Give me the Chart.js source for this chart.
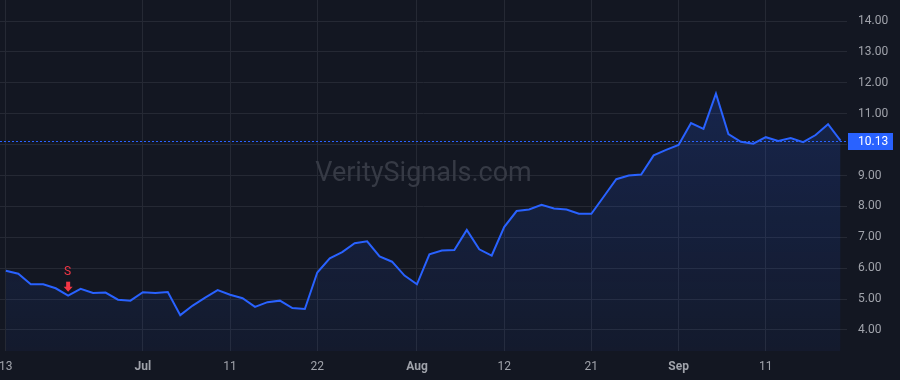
<!DOCTYPE html>
<html>
<head>
<meta charset="utf-8">
<script src="https://cdn.jsdelivr.net/npm/chart.js@4/dist/chart.umd.min.js"></script>
<style>
  html, body { margin: 0; padding: 0; background: #131722; }
  canvas { display: block; }
</style>
</head>
<body>
<canvas id="myChart" width="900" height="380"></canvas>
<script>
// trading days, Jun 13 -> Sep 19
const categories = [
    'Jun 13', 'Jun 16', 'Jun 17', 'Jun 18', 'Jun 20', 'Jun 23', 'Jun 24', 'Jun 25', 'Jun 26', 'Jun 27', 'Jun 30',
    'Jul 1', 'Jul 2', 'Jul 3', 'Jul 7', 'Jul 8', 'Jul 9', 'Jul 10', 'Jul 11', 'Jul 14', 'Jul 15', 'Jul 16',
    'Jul 17', 'Jul 18', 'Jul 21', 'Jul 22', 'Jul 23', 'Jul 24', 'Jul 25', 'Jul 28', 'Jul 29', 'Jul 30', 'Jul 31',
    'Aug 1', 'Aug 4', 'Aug 5', 'Aug 6', 'Aug 7', 'Aug 8', 'Aug 11', 'Aug 12', 'Aug 13', 'Aug 14', 'Aug 15',
    'Aug 18', 'Aug 19', 'Aug 20', 'Aug 21', 'Aug 22', 'Aug 25', 'Aug 26', 'Aug 27', 'Aug 28', 'Aug 29',
    'Sep 2', 'Sep 3', 'Sep 4', 'Sep 5', 'Sep 8', 'Sep 9', 'Sep 10', 'Sep 11', 'Sep 12', 'Sep 15', 'Sep 16',
    'Sep 17', 'Sep 18', 'Sep 19'
];
const prices = [
    5.92, 5.82, 5.48, 5.48, 5.35, 5.11, 5.33, 5.20, 5.21, 4.98, 4.95,
    5.22, 5.20, 5.23, 4.48, 4.79, 5.05, 5.29, 5.14, 5.03, 4.75, 4.90,
    4.95, 4.71, 4.68, 5.86, 6.32, 6.52, 6.81, 6.87, 6.38, 6.21, 5.76,
    5.48, 6.45, 6.57, 6.59, 7.24, 6.61, 6.41, 7.33, 7.85, 7.90, 8.05,
    7.93, 7.90, 7.76, 7.76, 8.32, 8.88, 9.00, 9.03, 9.65, 9.83,
    9.99, 10.70, 10.51, 11.65, 10.34, 10.09, 10.03, 10.24, 10.12, 10.21, 10.08,
    10.31, 10.66, 10.13
];
// x axis labels and the day they sit on
const tickDays = ['Jun 13', 'Jul 1', 'Jul 11', 'Jul 22', 'Aug 1', 'Aug 12', 'Aug 21', 'Sep 2', 'Sep 11'];
const tickLabels = ['13', 'Jul', '11', '22', 'Aug', '12', '21', 'Sep', '11'];
const monthLabels = ['Jul', 'Aug', 'Sep'];
const yTicks = [4, 5, 6, 7, 8, 9, 10, 11, 12, 13, 14];
// sell signal
const signalDay = 'Jun 23';
const signalText = 'S';

const FONT = 'Roboto, "Noto Sans", sans-serif';
const BLUE = '#2962ff';
const TEXT = '#a0a3ab';
const GRID = '#252934';

const points = prices.map((p, i) => ({ x: i, y: p }));
const lastPrice = prices[prices.length - 1];

const extras = {
    id: 'extras',
    beforeDatasetsDraw(chart) {
        const c = chart.ctx;
        const area = chart.chartArea;
        const ys = chart.scales.y;
        // watermark
        c.save();
        c.font = '27px ' + FONT;
        c.fillStyle = '#363a45';
        c.textAlign = 'center';
        c.textBaseline = 'alphabetic';
        c.fillText('VeritySignals.com', (area.left + area.right) / 2, 181);
        // last price line
        const py = Math.round(ys.getPixelForValue(lastPrice)) + 0.5;
        c.strokeStyle = BLUE;
        c.lineWidth = 1;
        c.setLineDash([2, 2]);
        c.beginPath();
        c.moveTo(area.left, py);
        c.lineTo(area.right, py);
        c.stroke();
        c.restore();
    },
    afterDraw(chart) {
        const c = chart.ctx;
        const xs = chart.scales.x;
        const ys = chart.scales.y;
        // price label
        const py = ys.getPixelForValue(lastPrice);
        c.save();
        c.fillStyle = BLUE;
        c.fillRect(ys.left + 1, Math.round(py) - 8, 45, 17);
        c.fillStyle = '#ffffff';
        c.font = '12px ' + FONT;
        c.textBaseline = 'middle';
        c.textAlign = 'left';
        c.fillText(lastPrice.toFixed(2), ys.left + 11, Math.round(py) + 1);
        // sell marker
        const i = categories.indexOf(signalDay);
        const sx = xs.getPixelForValue(i);
        const sy = ys.getPixelForValue(prices[i]);
        c.fillStyle = '#f23645';
        c.textAlign = 'center';
        c.fillText(signalText, sx - 0.5, sy - 24);
        c.fillRect(sx - 2, sy - 14, 4, 6);
        c.beginPath();
        c.moveTo(sx - 4.5, sy - 9);
        c.lineTo(sx + 4.5, sy - 9);
        c.lineTo(sx, sy - 4);
        c.closePath();
        c.fill();
        c.restore();
    }
};

const ctx = document.getElementById('myChart').getContext('2d');
const myChart = new Chart(ctx, {
    type: 'line',
    data: {
        datasets: [{
            data: points,
            borderColor: BLUE,
            borderWidth: 2,
            pointRadius: 0,
            tension: 0,
            fill: 'start',
            backgroundColor: (context) => {
                const { chart } = context;
                const area = chart.chartArea;
                if (!area) return 'rgba(41,98,255,0.12)';
                const g = chart.ctx.createLinearGradient(0, area.top, 0, area.bottom);
                g.addColorStop(0, 'rgba(41,98,255,0.24)');
                g.addColorStop(1, 'rgba(41,98,255,0.05)');
                return g;
            }
        }]
    },
    options: {
        responsive: false,
        animation: false,
        devicePixelRatio: 1,
        layout: { padding: 0 },
        plugins: {
            legend: { display: false },
            tooltip: { enabled: false }
        },
        scales: {
            x: {
                type: 'linear',
                min: -0.47,
                max: 67.52,
                afterBuildTicks: (scale) => {
                    scale.ticks = tickDays.map(d => ({ value: categories.indexOf(d) }));
                },
                afterFit: (scale) => {
                    scale.height = 29;
                    scale.paddingLeft = 0;
                    scale.paddingRight = 0;
                },
                grid: { color: GRID, drawTicks: false },
                border: { display: false },
                ticks: {
                    autoSkip: false,
                    maxRotation: 0,
                    padding: 9,
                    color: TEXT,
                    font: (c) => {
                        const k = c.tick ? tickDays.indexOf(categories[c.tick.value]) : -1;
                        const bold = k >= 0 && monthLabels.includes(tickLabels[k]);
                        return { family: FONT, size: 12, weight: bold ? 'bold' : 'normal' };
                    },
                    callback: (value) => {
                        const k = tickDays.indexOf(categories[value]);
                        return k >= 0 ? tickLabels[k] : '';
                    }
                }
            },
            y: {
                position: 'right',
                min: 3.32,
                max: 14.68,
                afterBuildTicks: (scale) => {
                    scale.ticks = yTicks.map(v => ({ value: v }));
                },
                afterFit: (scale) => {
                    scale.width = 53;
                    scale.paddingTop = 0;
                    scale.paddingBottom = 0;
                },
                grid: { color: GRID, drawTicks: false },
                border: { display: false },
                ticks: {
                    padding: 11,
                    color: TEXT,
                    font: { family: FONT, size: 12 },
                    callback: (value) => value.toFixed(2)
                }
            }
        }
    },
    plugins: [extras]
});
</script>
</body>
</html>
